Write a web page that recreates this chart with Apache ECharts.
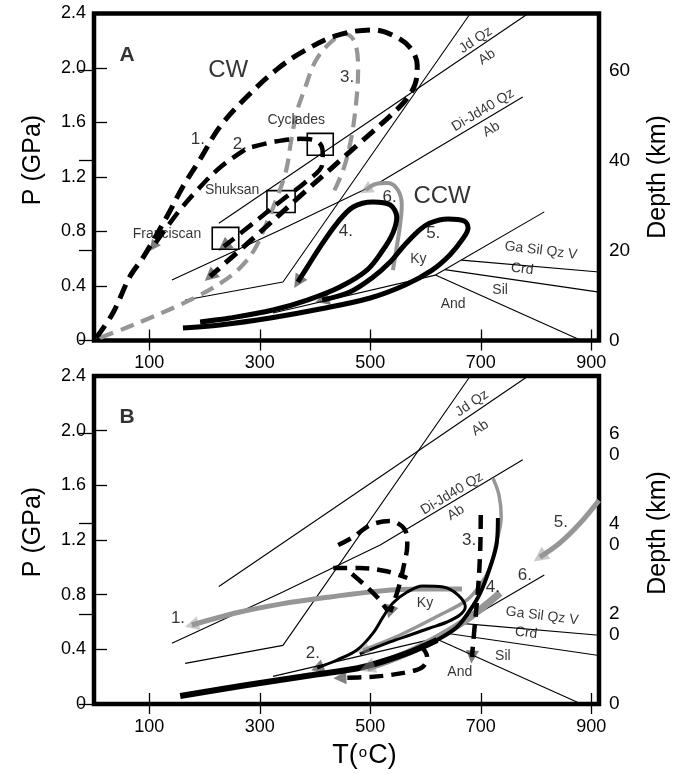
<!DOCTYPE html>
<html>
<head>
<meta charset="utf-8">
<title>P-T paths</title>
<script src="https://cdn.jsdelivr.net/npm/echarts@6/dist/echarts.min.js"></script>
<style>
  html, body { margin: 0; padding: 0; background: #fff; }
  #chart { width: 684px; height: 774px; }
</style>
</head>
<body>
<div id="chart"></div>
<script>
// ticks
const tempTicks = [100, 300, 500, 700, 900];
const depthTicks = [0, 20, 40, 60];
const kmPerGPa = 30.3;
const tMax = 914;

// reaction lines [T degC, P GPa] (same in both panels)
const jdQzAb = [[226, 0.86], [786, 2.4]];
const kinkLine = [[165, 0.297], [342, 0.429], [681, 2.4]];
const diJdAb = [[141, 0.444], [337, 0.811], [518, 1.163], [776, 1.787]];
const kyAnd = [[324, 0.202], [618, 0.48]];
const kySil = [[618, 0.48], [815, 0.944]];
const andSil = [[618, 0.48], [882, 0]];
const crdLine = [[635, 0.52], [914, 0.355]];
const gaSilLine = [[665, 0.59], [914, 0.503]];

// panel A paths
const a1Path = [[4, 0.02], [34, 0.20], [65, 0.47], [89, 0.61], [132, 0.91], [161, 1.13], [192, 1.33], [228, 1.57], [277, 1.79], [331, 1.99], [378, 2.12], [440, 2.24], [505, 2.28], [541, 2.24], [572, 2.15], [585, 2.02], [581, 1.88], [559, 1.74], [481, 1.45], [373, 1.06], [291, 0.76], [210, 0.47]];
const a2Path = [[286, 1.42], [328, 1.46], [373, 1.48], [405, 1.46], [414, 1.38], [413, 1.29], [382, 1.16], [340, 1.03], [291, 0.87], [235, 0.69]];
const a2Tail = [[273, 1.40], [228, 1.27], [186, 1.10], [152, 0.94], [107, 0.69]];
const a3Path = [[11, 0.02], [56, 0.09], [101, 0.165], [147, 0.246], [192, 0.334], [232, 0.429], [264, 0.532], [290, 0.664], [311, 0.848], [333, 1.068], [348, 1.252], [357, 1.472], [367, 1.677], [382, 1.853], [400, 2.044], [427, 2.184], [454, 2.25], [472, 2.191], [478, 1.985], [474, 1.728], [465, 1.472], [451, 1.252], [431, 1.068]];
const a4Path = [[192, 0.136], [246, 0.165], [324, 0.224], [386, 0.297], [445, 0.393], [494, 0.517], [523, 0.664], [541, 0.789], [548, 0.906], [536, 0.995], [505, 1.017], [469, 0.98], [440, 0.862], [409, 0.686], [386, 0.539], [369, 0.429]];
const a5Path = [[161, 0.092], [228, 0.114], [319, 0.165], [409, 0.231], [500, 0.312], [563, 0.407], [612, 0.517], [644, 0.628], [666, 0.738], [677, 0.826], [670, 0.877], [641, 0.892], [608, 0.862], [585, 0.796], [559, 0.686], [536, 0.576], [503, 0.459], [463, 0.356], [413, 0.297]];
const a6Path = [[541, 0.517], [547, 0.664], [554, 0.848], [557, 0.995], [550, 1.105], [532, 1.156], [510, 1.149], [492, 1.105]];
// P-T boxes [Tmin, Tmax, Pmin, Pmax]
const boxesA = [[386, 433, 1.36, 1.52], [313, 364, 0.94, 1.10], [214, 262, 0.67, 0.83]];

// panel B paths
const b1Path = [[666, 0.841], [590, 0.841], [518, 0.827], [427, 0.783], [337, 0.731], [264, 0.673], [177, 0.578]];
const b2Path = [[481, 0.366], [536, 0.454], [572, 0.505], [608, 0.556], [639, 0.60], [662, 0.651], [672, 0.71], [659, 0.797], [632, 0.856], [595, 0.863], [567, 0.819], [541, 0.739], [523, 0.636], [505, 0.519], [476, 0.395], [440, 0.322], [404, 0.263]];
const b3Tail = [[156, 0.059], [277, 0.139], [396, 0.212], [487, 0.271], [572, 0.38], [621, 0.468]];
const b3Rise = [[572, 0.38], [621, 0.468], [657, 0.563], [681, 0.688], [699, 0.812], [717, 1.002], [729, 1.178], [731, 1.361]];
const b3Gray = [[722, 1.653], [733, 1.529], [737, 1.368], [727, 1.163], [717, 1.002], [699, 0.87], [675, 0.761], [626, 0.651], [554, 0.505], [487, 0.395]];
const b4Path = [[735, 0.812], [681, 0.636], [626, 0.497], [563, 0.366], [494, 0.263]];
const b5Path = [[914, 1.49], [880, 1.324], [843, 1.178], [807, 1.075]];
const b6Loop = [[442, 1.163], [469, 1.222], [500, 1.309], [536, 1.339], [563, 1.273], [567, 1.163], [561, 1.017], [550, 0.834], [536, 0.673]];
const b6Bar = [[433, 0.995], [481, 0.995], [527, 0.973], [567, 0.922]];
const b6Diag = [[467, 0.951], [492, 0.863], [514, 0.775], [532, 0.68]];
const b7Path = [[590, 0.432], [603, 0.344], [595, 0.271], [576, 0.241], [536, 0.212], [500, 0.198], [445, 0.19]];
const b8Path = [[700, 1.383], [699, 1.126], [695, 0.834], [690, 0.614], [684, 0.344]];

// annotations [T, P, text, kind]
const textsA = [
  [60, 2.095, 'A', 'panel'], [243, 1.98, 'CW', 'big'], [458, 1.93, '3.', 'num'],
  [366, 1.62, 'Cyclades', 'name'], [188, 1.48, '1.', 'num'], [264, 1.44, '2.', 'num'],
  [250, 1.10, 'Shuksan', 'name'], [132, 0.78, 'Franciscan', 'name'],
  [535, 1.05, '6.', 'num'], [630, 1.06, 'CCW', 'big'], [456, 0.80, '4.', 'num'],
  [614, 0.79, '5.', 'num'], [587, 0.60, 'Ky', 'name'],
  [809, 0.66, 'Ga Sil Qz V', 'slope'], [775, 0.525, 'Crd', 'slope'],
  [735, 0.37, 'Sil', 'name'], [650, 0.268, 'And', 'name'],
  [691, 2.205, 'Jd Qz', 'jd'], [711, 2.08, 'Ab', 'jd'],
  [704, 1.69, 'Di-Jd40 Qz', 'di'], [719, 1.55, 'Ab', 'di']
];
const textsB = [
  [60, 2.10, 'B', 'panel'], [152, 0.63, '1.', 'num'], [396, 0.373, '2.', 'num'],
  [679, 1.20, '3.', 'num'], [722, 0.856, '4.', 'num'], [845, 1.33, '5.', 'num'],
  [780, 0.944, '6.', 'num'], [599, 0.739, 'Ky', 'name'],
  [811, 0.644, 'Ga Sil Qz V', 'slope'], [782, 0.52, 'Crd', 'slope'],
  [740, 0.351, 'Sil', 'name'], [662, 0.234, 'And', 'name'],
  [684, 2.20, 'Jd Qz', 'jd'], [699, 2.02, 'Ab', 'jd'],
  [648, 1.54, 'Di-Jd40 Qz', 'di'], [655, 1.40, 'Ab', 'di']
];

const font = 'Liberation Sans, Arial, Helvetica, sans-serif';
const black = '#000';
const gray = '#969696';
const dashBig = [15, 8];
const dashMid = [14, 8];

const labelKinds = {
  panel: { fontSize: 21, fontWeight: 'bold' },
  big: { fontSize: 24 },
  num: { fontSize: 17 },
  name: { fontSize: 14 },
  slope: { fontSize: 14, rotate: -7 },
  jd: { fontSize: 14, rotate: 34 },
  di: { fontSize: 14, rotate: 31 }
};

function path(gi, data, color, width, dash, z) {
  return {
    type: 'line', xAxisIndex: gi * 2, yAxisIndex: gi * 2, data: data,
    smooth: 0.35, symbol: 'none', showSymbol: false, silent: true, z: z || 4,
    lineStyle: { color: color, width: width, type: dash || 'solid', cap: 'butt' }
  };
}
function thin(gi, data) {
  return {
    type: 'line', xAxisIndex: gi * 2, yAxisIndex: gi * 2, data: data,
    symbol: 'none', silent: true, z: 2, lineStyle: { color: black, width: 1.1 }
  };
}
function arrow(gi, data, color, size, z) {
  const n = data.length;
  return {
    type: 'lines', coordinateSystem: 'cartesian2d', xAxisIndex: gi * 2, yAxisIndex: gi * 2,
    symbol: ['none', 'triangle'], symbolSize: size || [11, 14], silent: true, z: z || 6,
    lineStyle: { color: color, width: 0 },
    data: [{ coords: [data[n - 2], data[n - 1]] }]
  };
}
function texts(gi, list) {
  return {
    type: 'scatter', xAxisIndex: gi * 2, yAxisIndex: gi * 2, symbolSize: 0, silent: true, z: 10,
    itemStyle: { color: 'transparent' },
    label: { show: true, position: 'inside', formatter: '{b}', color: black, fontFamily: font },
    data: list.map(function (t) {
      return { value: [t[0], t[1]], name: t[2], label: labelKinds[t[3]] };
    })
  };
}
function reactions(gi) {
  return [jdQzAb, kinkLine, diJdAb, kyAnd, kySil, andSil, crdLine, gaSilLine].map(function (d) {
    return thin(gi, d);
  });
}

function xAxes(gi, name) {
  const bottom = {
    type: 'value', gridIndex: gi, min: 0, max: tMax, position: 'bottom',
    axisLine: { show: false }, splitLine: { show: false },
    axisTick: { inside: true, length: 11, customValues: tempTicks, lineStyle: { color: black, width: 1.3 } },
    axisLabel: { customValues: tempTicks, margin: 14, fontSize: 18, color: black, fontFamily: font }
  };
  if (name) {
    bottom.name = '{t|T(}{o|o}{t|C)}';
    bottom.nameLocation = 'middle';
    bottom.nameGap = 38;
    bottom.nameTextStyle = {
      padding: [0, 0, 0, 36],
      rich: {
        t: { fontSize: 27, fontFamily: font, color: black },
        o: { fontSize: 15, fontFamily: font, color: black, verticalAlign: 'top', padding: [3, 1, 0, 1] }
      }
    };
  }
  const top = {
    type: 'value', gridIndex: gi, min: 0, max: tMax, position: 'top',
    axisLine: { show: false }, splitLine: { show: false },
    axisTick: { inside: true, length: 10, customValues: tempTicks, lineStyle: { color: black, width: 1.3 } },
    axisLabel: { show: false }
  };
  return [bottom, top];
}
function yAxes(gi, shiftP, shiftD, depthFormatter) {
  return [{
    type: 'value', gridIndex: gi, min: 0, max: 2.4, interval: 0.4, position: 'left',
    axisLine: { show: false }, splitLine: { show: false },
    axisTick: { inside: true, length: 13, lineStyle: { color: black, width: 1.3 } },
    axisLabel: {
      margin: 8, fontSize: 18, color: black, fontFamily: font,
      formatter: function (v) { return v === 0 ? '0' : v.toFixed(1); }
    },
    name: 'P (GPa)', nameLocation: 'middle', nameGap: 48, nameRotate: 90,
    nameTextStyle: { fontSize: 25, color: black, fontFamily: font, padding: [0, 0, 0, shiftP] }
  }, {
    type: 'value', gridIndex: gi, min: 0, max: 2.4 * kmPerGPa, position: 'right',
    axisLine: { show: false }, splitLine: { show: false },
    axisTick: { inside: true, length: 15, customValues: depthTicks, lineStyle: { color: black, width: 1.3 } },
    axisLabel: {
      customValues: depthTicks, margin: 10, fontSize: 19, lineHeight: 21, color: black, fontFamily: font,
      formatter: depthFormatter
    },
    name: 'Depth (km)', nameLocation: 'middle', nameGap: 47, nameRotate: 90,
    nameTextStyle: { fontSize: 25, color: black, fontFamily: font, padding: [0, 0, 0, shiftD] }
  }];
}

const boxSeries = {
  type: 'custom', xAxisIndex: 0, yAxisIndex: 0, silent: true, z: 3,
  data: boxesA,
  renderItem: function (params, api) {
    const p0 = api.coord([api.value(0), api.value(3)]);
    const p1 = api.coord([api.value(1), api.value(2)]);
    return {
      type: 'rect',
      shape: { x: p0[0], y: p0[1], width: p1[0] - p0[0], height: p1[1] - p0[1] },
      style: { fill: 'none', stroke: black, lineWidth: 1.6 }
    };
  }
};

const series = [].concat(
  reactions(0),
  [boxSeries,
    path(0, a3Path, gray, 4.2, dashMid, 4),
    path(0, a6Path, gray, 4, null, 4), arrow(0, a6Path, gray, [10, 13]),
    path(0, a1Path, black, 5, dashBig, 5), arrow(0, a1Path, black),
    path(0, a2Path, black, 4.5, dashBig, 5), arrow(0, a2Path, black),
    path(0, a2Tail, black, 4.5, dashBig, 5), arrow(0, a2Tail, black, [9, 11]),
    path(0, a4Path, black, 5, null, 5), arrow(0, a4Path, black),
    path(0, a5Path, black, 5, null, 5), arrow(0, a5Path, black),
    texts(0, textsA)],
  reactions(1),
  [path(1, b1Path, gray, 5, null, 4), arrow(1, b1Path, gray),
    path(1, b3Gray, gray, 3.5, null, 4), arrow(1, b3Gray, gray, [9, 12]),
    path(1, b4Path, gray, 7, null, 4), arrow(1, b4Path, gray, [14, 16]),
    path(1, b5Path, gray, 5, null, 4), arrow(1, b5Path, gray, [12, 15]),
    path(1, b3Tail, black, 6, null, 5),
    path(1, b3Rise, black, 4, null, 5),
    path(1, b2Path, black, 3, null, 5), arrow(1, b2Path, black, [10, 13]),
    path(1, b6Loop, black, 4.5, dashMid, 5), arrow(1, b6Loop, black, [10, 13]),
    path(1, b6Bar, black, 4.5, dashMid, 5),
    path(1, b6Diag, black, 4.5, dashMid, 5),
    path(1, b7Path, black, 4.5, dashMid, 5), arrow(1, b7Path, black, [10, 13]),
    path(1, b8Path, black, 4.5, dashMid, 5), arrow(1, b8Path, black, [10, 13]),
    texts(1, textsB)]
);

const chart = echarts.init(document.getElementById('chart'));
chart.setOption({
  animation: false,
  backgroundColor: '#fff',
  textStyle: { fontFamily: font },
  grid: [
    { left: 94, top: 13.5, width: 505, height: 327, show: true, borderColor: black, borderWidth: 4.5 },
    { left: 94, top: 376, width: 505, height: 328, show: true, borderColor: black, borderWidth: 4.5 }
  ],
  xAxis: [].concat(xAxes(0, false), xAxes(1, true)),
  yAxis: [].concat(
    yAxes(0, 34, 0, function (v) { return String(v); }),
    yAxes(1, 16, 14, function (v) {
      if (v === 0) return '0';
      const s = String(v);
      return '\n' + s[0] + '\n' + s[1];
    })
  ),
  series: series
});
</script>
</body>
</html>
